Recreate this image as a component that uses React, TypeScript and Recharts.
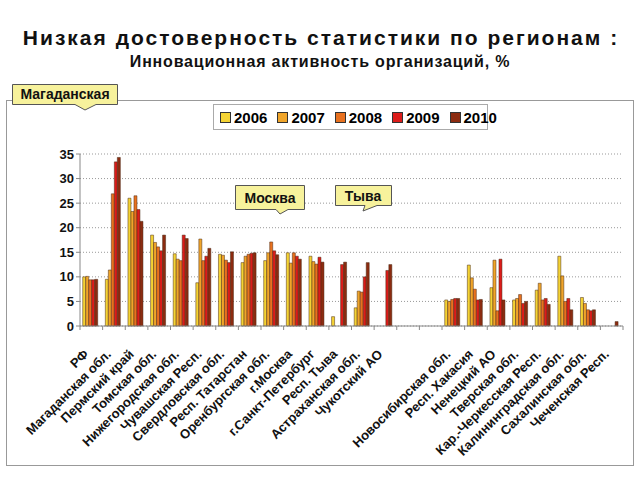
import React from "react";
import { BarChart, Bar, XAxis, YAxis, CartesianGrid, Legend } from "recharts";

const regions = [
  "РФ",
  "Магаданская обл.",
  "Пермский край",
  "Томская обл.",
  "Нижегородская обл.",
  "Чувашская Респ.",
  "Свердловская обл.",
  "Респ. Татарстан",
  "Оренбургская обл.",
  "г.Москва",
  "г.Санкт-Петербург",
  "Респ. Тыва",
  "Астраханская обл.",
  "Чукотский АО",
  " ",
  "  ",
  "Новосибирская обл.",
  "Респ. Хакасия",
  "Ненецкий АО",
  "Тверская обл.",
  "Кар.-Черкесская Респ.",
  "Калининградская обл.",
  "Сахалинская обл.",
  "Чеченская Респ.",
];

const y2006 = [10.0, 9.5, 26.0, 18.5, 14.7, 8.8, 14.6, 12.9, 13.3, 14.9, 14.2, 1.9, 3.7, null, null, null, 5.3, 12.4, 7.8, 5.3, 7.3, 14.2, 5.8, null];
const y2007 = [10.1, 11.4, 23.3, 17.0, 13.6, 17.7, 14.4, 14.2, 14.9, 12.8, 13.1, null, 7.1, null, null, null, 5.0, 9.8, 13.4, 5.6, 8.7, 10.2, 4.6, null];
const y2008 = [9.4, 26.9, 26.5, 16.1, 13.3, 13.3, 13.4, 14.6, 17.1, 14.9, 12.6, null, 6.9, null, null, null, 5.4, 7.5, 3.1, 6.4, 5.3, 5.0, 3.3, null];
const y2009 = [9.4, 33.4, 23.7, 15.3, 18.5, 14.2, 12.9, 14.8, 15.3, 14.2, 14.0, 12.5, 10.0, 11.3, null, null, 5.6, 5.3, 13.6, 4.6, 5.6, 5.6, 3.1, null];
const y2010 = [9.5, 34.3, 21.3, 18.5, 17.8, 15.8, 15.1, 14.9, 14.5, 13.6, 13.0, 13.0, 12.9, 12.5, null, null, 5.6, 5.4, 5.3, 5.0, 4.4, 3.3, 3.3, 0.9];

const years = ["2006", "2007", "2008", "2009", "2010"];
const colors = ["#F4D334", "#F0A52A", "#E8711F", "#DC1C1A", "#8C2B10"];
const yTicks = [0, 5, 10, 15, 20, 25, 30, 35];

const data = regions.map((name, i) => ({
  name,
  y2006: y2006[i],
  y2007: y2007[i],
  y2008: y2008[i],
  y2009: y2009[i],
  y2010: y2010[i],
}));

const FONT = "'Liberation Sans', Arial, sans-serif";
const W = 640;
const H = 480;
const MARGIN = { top: 154, right: 17, left: 0, bottom: 34 };
const Y_W = 80;
const STEP = (W - MARGIN.left - MARGIN.right - Y_W) / regions.length;

function RegionTick({ x, y, payload }: any) {
  return (
    <g>
      <line x1={x - STEP / 2} y1={y - 8} x2={x - STEP / 2} y2={y - 4} stroke="#888" />
      {payload.index === regions.length - 1 && (
        <line x1={x + STEP / 2} y1={y - 8} x2={x + STEP / 2} y2={y - 4} stroke="#888" />
      )}
      <text
        transform={`translate(${x - 2},${y + 21}) rotate(-45)`}
        textAnchor="end"
        fontSize={13}
        fontWeight="bold"
        fill="#111"
        fontFamily={FONT}
      >
        {payload.value}
      </text>
    </g>
  );
}

function LegendBox({ payload }: any) {
  return (
    <div
      style={{
        display: "flex",
        alignItems: "center",
        gap: 10,
        padding: "0 6px",
        height: 26,
        border: "1px solid #aaa",
        background: "#fff",
        boxSizing: "border-box",
        fontFamily: FONT,
        fontWeight: "bold",
        fontSize: 15,
      }}
    >
      {(payload || []).map((p: any) => (
        <div key={p.value} style={{ display: "flex", alignItems: "center", gap: 3 }}>
          <span
            style={{
              display: "inline-block",
              width: 9,
              height: 9,
              background: p.color,
              border: "1px solid #333",
            }}
          />
          <span>{p.value}</span>
        </div>
      ))}
    </div>
  );
}

function Callout({ d, label, tx, ty }: { d: string; label: string; tx: number; ty: number }) {
  return (
    <g>
      <path d={d} fill="#F7F29C" stroke="#555" strokeWidth={1} />
      <text x={tx} y={ty} textAnchor="middle" fontSize={14} fontWeight="bold" fontFamily={FONT} fill="#111">
        {label}
      </text>
    </g>
  );
}

export default function App() {
  return (
    <div style={{ position: "absolute", left: 0, top: 0, width: W, height: H, background: "#fff" }}>
      <BarChart
        width={W}
        height={H}
        data={data}
        margin={MARGIN}
        barCategoryGap="12%"
        barGap={0}
      >
        <CartesianGrid vertical={false} stroke="#999" strokeDasharray="1 2" />
        <XAxis
          dataKey="name"
          interval={0}
          height={120}
          stroke="#888"
          tickLine={false}
          tick={<RegionTick />}
        />
        <YAxis
          width={Y_W}
          domain={[0, 35]}
          ticks={yTicks}
          stroke="#888"
          tickSize={4}
          tick={{ fontSize: 13, fontWeight: "bold", fill: "#111", fontFamily: FONT }}
        />
        <Legend
          layout="horizontal"
          verticalAlign="middle"
          align="center"
          content={<LegendBox />}
          wrapperStyle={{ left: 213, top: 104, width: 275, height: 26 }}
        />
        {years.map((yr, i) => (
          <Bar
            key={yr}
            dataKey={`y${yr}`}
            name={yr}
            fill={colors[i]}
            stroke="#4a2a14"
            strokeWidth={0.5}
            isAnimationActive={false}
          />
        ))}
      </BarChart>
      <svg
        width={W}
        height={H}
        style={{ position: "absolute", left: 0, top: 0, pointerEvents: "none" }}
      >
        <text x={321} y={45} textAnchor="middle" fontSize={21} letterSpacing={2} fontWeight="bold" fontFamily={FONT} fill="#111">
          Низкая достоверность статистики по регионам :
        </text>
        <text x={320} y={67} textAnchor="middle" fontSize={16} letterSpacing={0.8} fontWeight="bold" fontFamily={FONT} fill="#111">
          Инновационная активность организаций, %
        </text>
        <rect x={6.5} y={100.5} width={627} height={365} fill="none" stroke="#999" />
        <Callout d="M12.5,84.5 H117.5 V104.5 H96 L85,110 L75,104.5 H12.5 Z" label="Магаданская" tx={65} ty={99} />
        <Callout d="M235.5,185.5 H304.5 V209.5 H288 L280,214 L276,209.5 H235.5 Z" label="Москва" tx={270} ty={203} />
        <Callout d="M335.5,185.5 H391.5 V205.5 H377 L363,211 L365,205.5 H335.5 Z" label="Тыва" tx={363} ty={201} />
      </svg>
    </div>
  );
}
